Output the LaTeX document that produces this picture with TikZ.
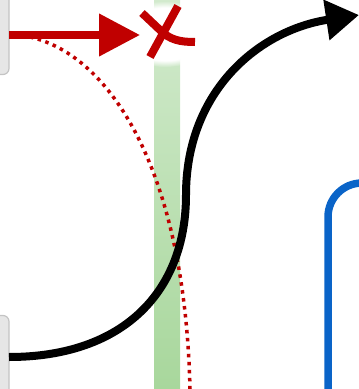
\documentclass[tikz,border=0pt]{standalone}
\usetikzlibrary{arrows.meta,fadings}
\definecolor{myred}{HTML}{C00000}
\definecolor{myblue}{HTML}{0A64C8}
\definecolor{gtop}{HTML}{D2EACD}
\definecolor{gbot}{HTML}{A8D79C}
\definecolor{boxfill}{HTML}{E6E6E6}
\definecolor{boxline}{HTML}{C4C4C4}
\tikzset{
  graybox/.style={draw=boxline, fill=boxfill, line width=1.2pt, rounded corners=6pt,
    minimum width=40pt, minimum height=105pt, inner sep=0pt, outer sep=0pt},
  redline/.style={draw=myred, line width=7.5pt},
  blackline/.style={draw=black, line width=8pt},
  dotline/.style={draw=myred, line width=3.5pt, dash pattern=on 3.5pt off 4.5pt},
  blueline/.style={draw=myblue, line width=7.5pt, rounded corners=34pt}
}
\begin{document}
\begin{tikzpicture}[x=1pt,y=-1pt]
\useasboundingbox (0,0) rectangle (359,389);
% green bar
\shade[top color=gtop, bottom color=gbot] (154,0) rectangle (180,389);
\fill[white, path fading=circle with fuzzy edge 20 percent] (165,34) ellipse [x radius=52, y radius=33];
% gray boxes
\node[graybox] (boxA) at (-11,22) {};
\node[graybox] (boxB) at (-11,368) {};
% coordinates
\coordinate (raTip) at (140,35);
\coordinate (dotStart) at (30,37);
\coordinate (dotEnd) at (190,389);
\coordinate (bkStart) at (9,357);
\coordinate (bkMid) at (186,195);
\coordinate (bkTip) at (359,15);
\coordinate (blStart) at (328,395);
\coordinate (blCorner) at (328,183);
\coordinate (blEnd) at (400,183);
% dotted red
\draw[dotline] (dotStart) .. controls (110,55) and (185,170) .. (dotEnd);
% red arrow
\draw[redline, -{Triangle[length=41pt,width=41pt]}] (boxA.east |- raTip) -- (raTip);
% red X
\draw[redline, line width=8pt] (178,6) -- (150,57);
\draw[redline, line width=8pt] (142,13) -- (160,30) .. controls (170,40) and (180,42) .. (195,42);
% black S curve
\draw[blackline, -{Triangle[length=33pt,width=39pt]}] (boxB.east |- bkStart)
  .. controls (125,357) and (186,290) .. (bkMid)
  .. controls (186,90) and (260,30) .. (bkTip);
% blue line
\draw[blueline] (blStart) -- (blCorner) -- (blEnd);
\end{tikzpicture}
\end{document}
